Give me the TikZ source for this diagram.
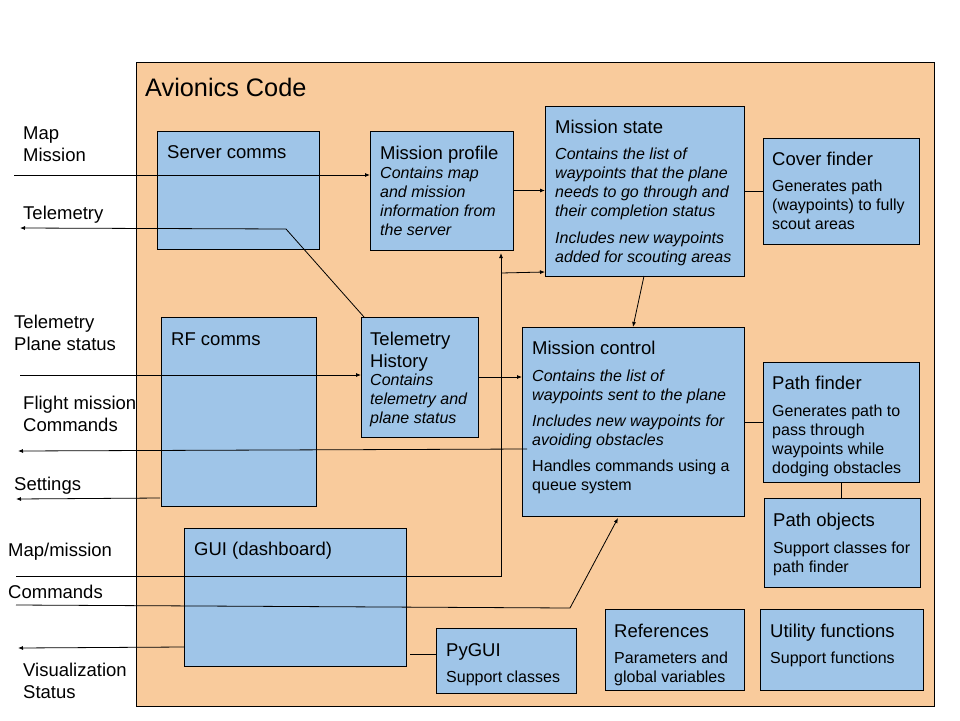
\documentclass[tikz,border=0pt]{standalone}
\usepackage{fontspec}
\setmainfont{Liberation Sans}
\usetikzlibrary{arrows.meta,calc}
\definecolor{orng}{HTML}{F9CB9C}
\definecolor{blu}{HTML}{9FC5E8}
\newcount\tlc
\newcommand\tl[3]{\global\advance\tlc by 1\relax\edef\tlname{t\the\tlc}\node[#1] (\tlname) at (#2) {#3};}
\newcommand\bx[5]{\node[box, anchor=north west, minimum width={#4pt-#2pt}, minimum height={#5pt-#3pt}] (#1) at (#2,#3) {};}
\begin{document}
\begin{tikzpicture}[x=1pt,y=-1pt,
  box/.style={draw=black, line width=0.9pt, fill=blu, inner sep=0pt, outer sep=0pt},
  ttl/.style={font=\fontsize{18.5}{22}\selectfont, anchor=base west, inner sep=0pt},
  bdy/.style={font=\fontsize{16}{19}\selectfont, anchor=base west, inner sep=0pt},
  bit/.style={font=\fontsize{16}{19}\selectfont\itshape, anchor=base west, inner sep=0pt},
  big/.style={font=\fontsize{25.3}{29}\selectfont, anchor=base west, inner sep=0pt},
  con/.style={line width=0.8pt},
  arr/.style={con, -{Latex[length=5pt,width=4pt]}}]
\useasboundingbox (0,0) rectangle (960,720);
\fill[white] (0,0) rectangle (960,720);
% outer
\node[draw=black, line width=0.9pt, fill=orng, anchor=north west, inner sep=0pt, outer sep=0pt,
  minimum width=798pt, minimum height=644pt] (outer) at (136,62) {};
\tl{big}{145,96}{Avionics Code}
% boxes
\bx{scomm}{157}{131}{319}{249}
\bx{mprof}{370}{131}{513}{250}
\bx{mstate}{545}{106}{744}{276}
\bx{cover}{763}{138}{919}{244}
\bx{rf}{161}{317}{316}{506}
\bx{thist}{361}{317}{478}{437}
\bx{mctrl}{522}{327}{744}{516}
\bx{pathf}{763}{362}{919}{482}
\bx{pobj}{764}{498}{920}{587}
\bx{gui}{184}{528}{406}{666}
\bx{pygui}{436}{628}{576}{693}
\bx{refs}{605}{609}{744}{690}
\bx{util}{760}{609}{923}{690}
% box texts
\tl{ttl}{167,158}{Server comms}
\tl{ttl}{380,159}{Mission profile}
\tl{bit}{380,178}{Contains map}
\tl{bit}{380,197}{and mission}
\tl{bit}{380,216}{information from}
\tl{bit}{380,235}{the server}
\tl{ttl}{555,133.5}{Mission state}
\tl{bit}{555,159.5}{Contains the list of}
\tl{bit}{555,178.5}{waypoints that the plane}
\tl{bit}{555,197.5}{needs to go through and}
\tl{bit}{555,216.5}{their completion status}
\tl{bit}{555,243.5}{Includes new waypoints}
\tl{bit}{555,262.5}{added for scouting areas}
\tl{ttl}{772,165}{Cover finder}
\tl{bdy}{772,191}{Generates path}
\tl{bdy}{772,210}{(waypoints) to fully}
\tl{bdy}{772,229}{scout areas}
\tl{ttl}{171,345}{RF comms}
\tl{ttl}{370,345.5}{Telemetry}
\tl{ttl}{370,367}{History}
\tl{bit}{370,385.5}{Contains}
\tl{bit}{370,404.5}{telemetry and}
\tl{bit}{370,423.5}{plane status}
\tl{ttl}{532,354.5}{Mission control}
\tl{bit}{532,381}{Contains the list of}
\tl{bit}{532,400}{waypoints sent to the plane}
\tl{bit}{532,426}{Includes new waypoints for}
\tl{bit}{532,445}{avoiding obstacles}
\tl{bdy}{532,471}{Handles commands using a}
\tl{bdy}{532,490}{queue system}
\tl{ttl}{772,389}{Path finder}
\tl{bdy}{772,416}{Generates path to}
\tl{bdy}{772,435}{pass through}
\tl{bdy}{772,454}{waypoints while}
\tl{bdy}{772,473}{dodging obstacles}
\tl{ttl}{773,526}{Path objects}
\tl{bdy}{773,553}{Support classes for}
\tl{bdy}{773,572}{path finder}
\tl{ttl}{194,555}{GUI (dashboard)}
\tl{ttl}{446,656}{PyGUI}
\tl{bdy}{446,682}{Support classes}
\tl{ttl}{614,637}{References}
\tl{bdy}{614,663}{Parameters and}
\tl{bdy}{614,682}{global variables}
\tl{ttl}{770,637}{Utility functions}
\tl{bdy}{770,663}{Support functions}
% left labels
\tl{ttl}{23,139}{Map}
\tl{ttl}{23,161}{Mission}
\tl{ttl}{23,219}{Telemetry}
\tl{ttl}{14,328}{Telemetry}
\tl{ttl}{14,350}{Plane status}
\tl{ttl}{23,409}{Flight mission}
\tl{ttl}{23,431}{Commands}
\tl{ttl}{14,490}{Settings}
\tl{ttl}{8,556}{Map/mission}
\tl{ttl}{8,598}{Commands}
\tl{ttl}{23,676}{Visualization}
\tl{ttl}{23,698}{Status}
% connectors
\coordinate (inMap) at (14,175);
\draw[arr] (inMap) -- (inMap -| mprof.west);
\coordinate (telk) at (286,229);
\coordinate (outTel) at (20,228);
\draw[arr] ($(thist.north west)+(3,0)$) -- (telk) -- (outTel);
\draw[arr] (mprof.east) -- (mprof.east -| mstate.west);
\coordinate (inGM) at (16,576);
\coordinate (gmk) at (501,576);
\draw[arr] (inGM) -- (gmk) -- ($(gmk |- mprof.south)+(0,3)$);
\coordinate (gmb) at (501,273);
\draw[arr] (gmb) -- ($(mstate.south west)+(0,-4)$);
\draw[arr] ($(mstate.south west)+(99,0)$) -- ($(mctrl.north west)+(111,0)$);
\draw[con] (cover.west -| mstate.east) -- (cover.west);
\coordinate (inTP) at (20,375);
\draw[arr] (inTP) -- (inTP -| thist.west);
\draw[arr] ($(thist.north east)+(0,60)$) -- ($(mctrl.north west)+(0,50)$);
\coordinate (outFM) at (18,451);
\draw[arr] ($(mctrl.north west)+(5,122)$) -- (outFM);
\coordinate (outSet) at (16,499);
\draw[arr] ($(rf.south west)+(-1,-8)$) -- (outSet);
\draw[con] (pathf.west -| mctrl.east) -- (pathf.west);
\draw[con] (pathf.south) -- (pathf.south |- pobj.north);
\coordinate (inCmd) at (16,605);
\coordinate (cmdk) at (570,608);
\draw[arr] (inCmd) -- (cmdk) -- ($(mctrl.south west)+(96,2)$);
\coordinate (outVis) at (18,648);
\draw[arr] ($(gui.north west)+(0,119)$) -- (outVis);
\draw[con] ($(gui.south east)+(4,-12)$) -- ($(pygui.north west)+(0,26)$);
\end{tikzpicture}
\end{document}
